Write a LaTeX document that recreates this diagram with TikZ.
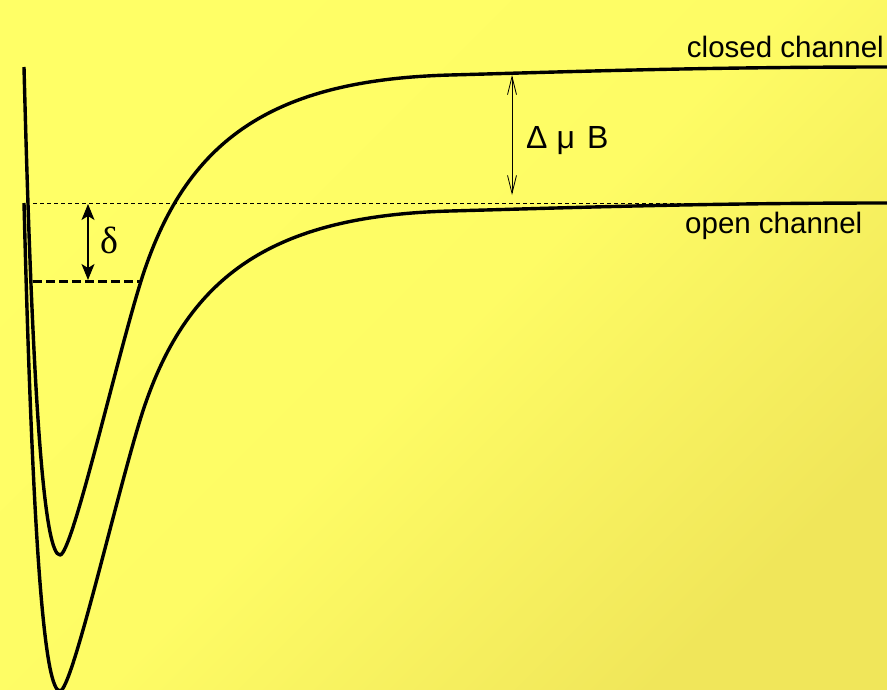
\documentclass[tikz,border=0pt]{standalone}
\usepackage{fontspec}
\setmainfont{Liberation Sans}
\newfontfamily\greekserif{Liberation Serif}
\usetikzlibrary{arrows.meta}

\definecolor{bglight}{RGB}{255,255,102}
\definecolor{bgmid}{RGB}{254,252,101}
\definecolor{bgdark}{RGB}{240,230,90}

\begin{document}
\begin{tikzpicture}[x=1pt, y=-1pt,
    curve/.style={line width=3.4pt, line join=round},
    threshold/.style={line width=0.9pt, dash pattern=on 4pt off 3pt},
    boundlevel/.style={line width=3pt, dash pattern=on 9pt off 4pt},
    chantext/.style={font=\fontsize{29.5}{31}\selectfont, inner sep=0pt}]
    % background
    \shade[top color=bglight, bottom color=bgdark, middle color=bgmid, shading angle=45]
        (0,0) rectangle (887,689);
    \useasboundingbox (0,0) rectangle (887,689);

    % threshold of the open channel and bound state
    \draw[threshold] (33,203) -- (887,203);
    \draw[boundlevel] (33,281) -- (140,281);

    % closed channel (dy=0) and open channel (dy=136)
    \foreach \dy in {0,136}
        \draw[curve, shift={(0,\dy)}] (24,67) .. controls (33,420) and (45,555) .. (60,555)
            .. controls (72,555) and (116,361) .. (141,281)
            .. controls (185,141) and (270,80) .. (450,75)
            .. controls (560,72) and (700,67) .. (887,67);

    % delta
    \coordinate (deltatop) at (88,204);
    \coordinate (deltabot) at (88,280);
    \draw[line width=1.2pt, {Stealth[length=16pt,width=13pt,inset=4pt]}-{Stealth[length=16pt,width=13pt,inset=4pt]}]
        (deltatop) -- (deltabot);
    \node[font=\greekserif\fontsize{38}{40}\selectfont, inner sep=0pt] (deltatext) at (109,240) {δ};

    % Zeeman shift
    \coordinate (shifttop) at (512,75);
    \coordinate (shiftbot) at (512,195);
    \draw[line width=0.8pt, {Straight Barb[length=18pt,width=9pt]}-{Straight Barb[length=18pt,width=9pt]}]
        (shifttop) -- (shiftbot);
    \node[chantext, font=\fontsize{32}{34}\selectfont, anchor=base west] (shifttext) at (526,148)
        {Δ\hspace{9pt}μ\hspace{12pt}B};

    % channel labels
    \node[chantext, anchor=base east] (closedtext) at (884,57) {closed channel};
    \node[chantext, anchor=base west] (opentext) at (685,233) {open channel};
\end{tikzpicture}
\end{document}
